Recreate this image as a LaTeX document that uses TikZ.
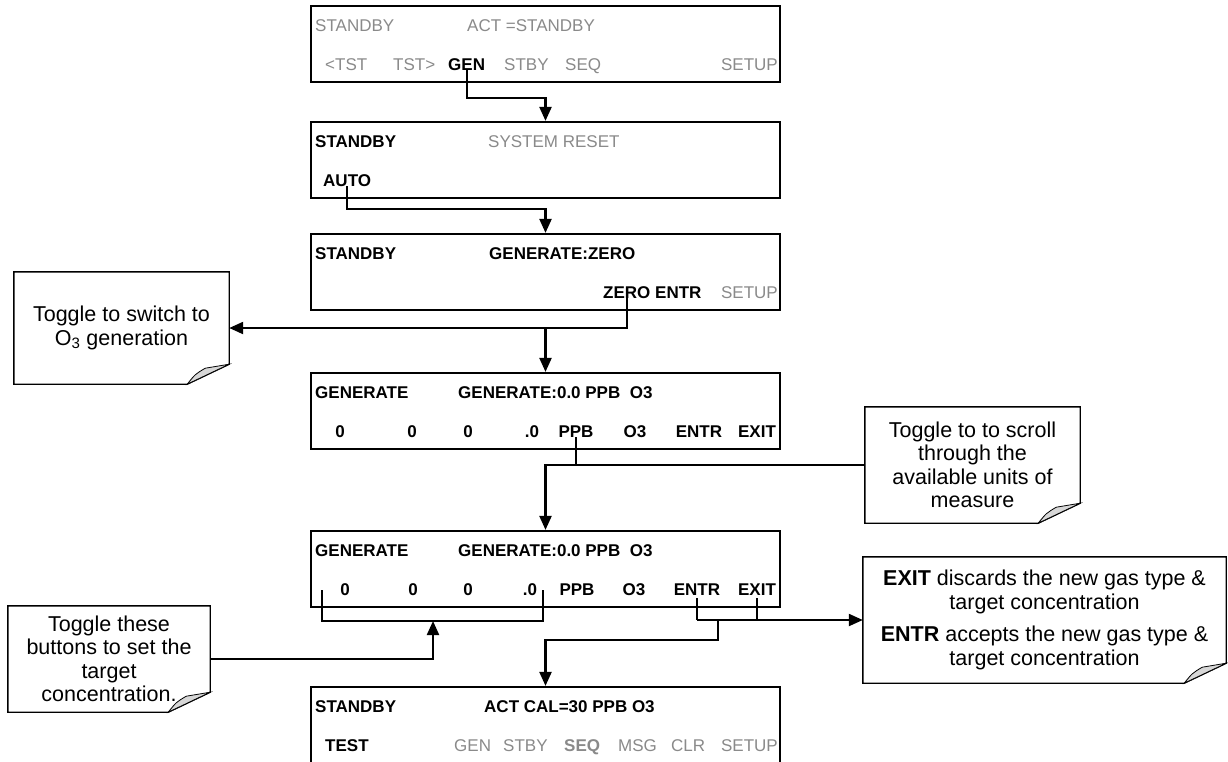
\documentclass[tikz,border=0pt]{standalone}
\usepackage{fontspec}
\setmainfont{Liberation Sans}
\usetikzlibrary{arrows.meta,calc}
\definecolor{lcdgray}{RGB}{138,138,138}
\definecolor{curlgray}{RGB}{215,215,215}
\tikzset{
  scr/.style={draw, line width=2.2pt, minimum width=469pt, minimum height=76pt, inner sep=0pt},
  lbl/.style={inner sep=0pt, font=\fontsize{17}{20}\selectfont, anchor=base west},
  bf/.style={font=\fontsize{17}{20}\selectfont\bfseries},
  ctr/.style={anchor=base},
  rgt/.style={anchor=base east},
  dim/.style={text=lcdgray},
  note/.style={align=center, inner sep=0pt, font=\fontsize{21.5}{23.5}\selectfont},
  wire/.style={line width=2.2pt},
  conn/.style={wire, -{Triangle[length=14pt,width=12pt]}},
  noteline/.style={line width=1.4pt, line join=miter},
}
\newcommand\foldnote[1]{%
  \draw[noteline] (#1.north west) -- (#1.north east) -- ($(#1.south east)+(0,-20)$) -- ($(#1.south east)+(-42,0)$) -- (#1.south west) -- cycle;
  \filldraw[line width=0.8pt, fill=curlgray] ($(#1.south east)+(-42,0)$) .. controls ($(#1.south east)+(-34,-10)$) .. ($(#1.south east)+(-24,-16)$) -- ($(#1.south east)+(0,-20)$) -- cycle;
}
\begin{document}
\begin{tikzpicture}[x=1pt,y=-1pt]
\useasboundingbox (0,0) rectangle (1228,761);
\fill[white] (0,0) rectangle (1228,761);
\clip (0,0) rectangle (1228,761);

% screens
\node[scr] (s1) at (545.5,44) {};
\node[scr] (s2) at (545.5,160) {};
\node[scr] (s3) at (545.5,272) {};
\node[scr] (s4) at (545.5,411) {};
\node[scr] (s5) at (545.5,569) {};
\node[scr] (s6) at (545.5,725) {};

% screen 1
\node[lbl,dim] (s1a) at (315,31) {STANDBY};
\node[lbl,dim] (s1b) at (467,31) {ACT =STANDBY};
\node[lbl,dim] (s1c) at (325,70) {<TST};
\node[lbl,dim] (s1d) at (393,70) {TST>};
\node[lbl,bf] (gen) at (448,70) {GEN};
\node[lbl,dim] (s1e) at (504,70) {STBY};
\node[lbl,dim] (s1f) at (565,70) {SEQ};
\node[lbl,dim,rgt] (s1g) at (778,70) {SETUP};

% screen 2
\node[lbl,bf] (s2a) at (315,147) {STANDBY};
\node[lbl,dim] (s2b) at (488,147) {SYSTEM RESET};
\node[lbl,bf] (auto) at (323,186) {AUTO};

% screen 3
\node[lbl,bf] (s3a) at (315,259) {STANDBY};
\node[lbl,bf] (s3b) at (489,259) {GENERATE:ZERO};
\node[lbl,bf] (zero) at (603,298) {ZERO};
\node[lbl,bf] (s3c) at (655,298) {ENTR};
\node[lbl,dim,rgt] (s3d) at (778,298) {SETUP};

% screen 4
\node[lbl,bf] (s4a) at (315,398) {GENERATE};
\node[lbl,bf] (s4b) at (458,398) {GENERATE:0.0 PPB\ \ O3};
\node[lbl,bf,ctr] (s4c) at (340,437) {0};
\node[lbl,bf,ctr] (s4d) at (412,437) {0};
\node[lbl,bf,ctr] (s4e) at (468,437) {0};
\node[lbl,bf,ctr] (s4f) at (532,437) {.0};
\node[lbl,bf,ctr] (ppb) at (576,437) {PPB};
\node[lbl,bf,ctr] (s4g) at (635,437) {O3};
\node[lbl,bf,ctr] (s4h) at (699,437) {ENTR};
\node[lbl,bf,ctr] (s4i) at (757,437) {EXIT};

% screen 5
\node[lbl,bf] (s5a) at (315,556) {GENERATE};
\node[lbl,bf] (s5b) at (458,556) {GENERATE:0.0 PPB\ \ O3};
\node[lbl,bf,ctr] (s5c) at (345,595) {0};
\node[lbl,bf,ctr] (s5d) at (413,595) {0};
\node[lbl,bf,ctr] (s5e) at (468,595) {0};
\node[lbl,bf,ctr] (s5f) at (530,595) {.0};
\node[lbl,bf,ctr] (s5g) at (577,595) {PPB};
\node[lbl,bf,ctr] (s5h) at (634,595) {O3};
\node[lbl,bf,ctr] (entr) at (697,595) {ENTR};
\node[lbl,bf,ctr] (exit) at (757,595) {EXIT};

% screen 6
\node[lbl,bf] (s6a) at (315,712) {STANDBY};
\node[lbl,bf] (s6b) at (484,712) {ACT CAL=30 PPB O3};
\node[lbl,bf] (s6c) at (325,751) {TEST};
\node[lbl,dim] (s6d) at (454,751) {GEN};
\node[lbl,dim] (s6e) at (503,751) {STBY};
\node[lbl,dim,bf] (s6f) at (564,751) {SEQ};
\node[lbl,dim] (s6g) at (618,751) {MSG};
\node[lbl,dim] (s6h) at (671,751) {CLR};
\node[lbl,dim,rgt] (s6i) at (778,751) {SETUP};

% callouts
\node[note, minimum width=215pt, minimum height=112pt] (c1) at (121.5,328) {Toggle to switch to\\O\textsubscript{3} generation};
\foldnote{c1}
\node[note, minimum width=215pt, minimum height=116pt] (c2) at (972.5,465) {Toggle to to scroll\\through the\\available units of\\measure};
\foldnote{c2}
\node[note, minimum width=363pt, minimum height=126pt] (c3) at (1044.5,620) {\textbf{EXIT} discards the new gas type \&\\target concentration\\[9pt]\textbf{ENTR} accepts the new gas type \&\\target concentration};
\foldnote{c3}
\node[note, minimum width=202pt, minimum height=106pt] (c4) at (109,659) {Toggle these\\buttons to set the\\target\\concentration.};
\foldnote{c4}

% connectors
\draw[conn] (gen.south) -- ++(0,28) -| (s2.north);
\draw[conn] (auto.south) -- ++(0,23) -| (s3.north);
\draw[conn] (zero.south) |- (c1.east);
\draw[conn] (s4.north |- c1.east) -- (s4.north);
\draw[wire] (ppb.south) -- (ppb.south |- c2.west);
\draw[conn] (c2.west) -| (s5.north);

\coordinate (bl) at (322,590);
\coordinate (br) at (543,590);
\coordinate (bm) at (433,621);
\draw[wire] (bl) -- (bl |- bm) -- (br |- bm) -- (br);
\draw[conn] (c4.east) -| (bm);

\draw[wire] ($(entr.south)+(0,3)$) -- (entr.south |- c3.west);
\draw[wire] ($(exit.south)+(0,3)$) -- (exit.south |- c3.west);
\draw[conn] (entr.south |- c3.west) -- (c3.west);
\coordinate (em) at (718,620);
\draw[conn] (em) -- ++(0,20) -| (s6.north);
\end{tikzpicture}
\end{document}
